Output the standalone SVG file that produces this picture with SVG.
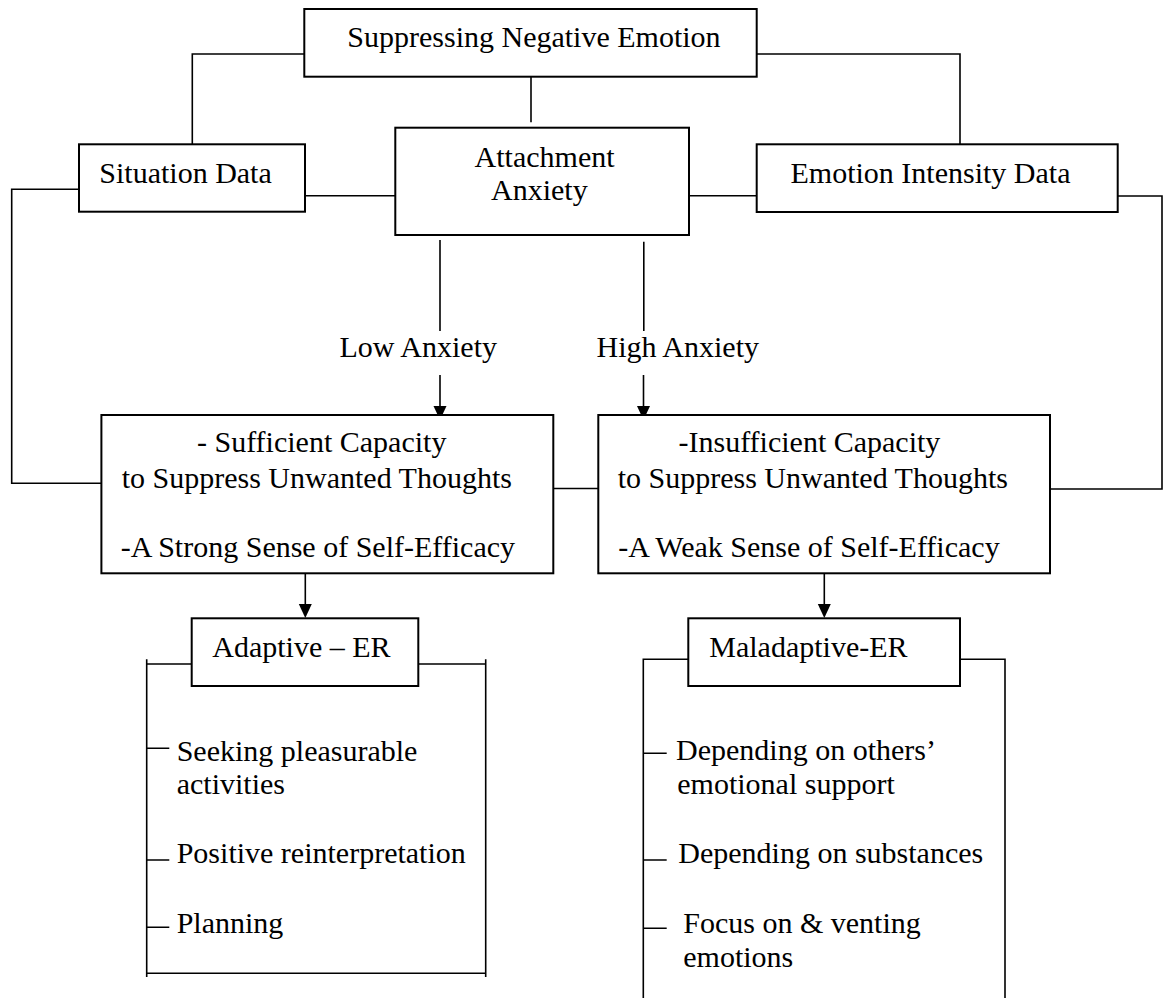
<svg xmlns="http://www.w3.org/2000/svg" width="1163" height="998" viewBox="0 0 1163 998">
<style>
  .box { fill: #fff; stroke: #000; stroke-width: 2; }
  .ln { fill: none; stroke: #000; stroke-width: 1.6; }
  text { font-family: "Liberation Serif", "Times New Roman", serif; font-size: 30px; fill: #000; }
</style>
<defs>
  <marker id="ah" markerWidth="13" markerHeight="14" refX="6.5" refY="14" orient="auto-start-reverse" markerUnits="userSpaceOnUse" viewBox="0 0 13 14">
    <path d="M0,0 L13,0 L6.5,14 Z" fill="#000"/>
  </marker>
</defs>
<rect width="1163" height="998" fill="#fff"/>

<g id="connectors">
  <path class="ln" d="M304.3,54 H192.3 V144.3"/>
  <path class="ln" d="M756.7,54 H960 V144.3"/>
  <path class="ln" d="M531,76.7 V122.3"/>
  <path class="ln" d="M305,195.7 H395.3"/>
  <path class="ln" d="M689,195.7 H756.7"/>
  <path class="ln" d="M79,189.3 H11.7 V483.3 H101.4"/>
  <path class="ln" d="M1117.7,196 H1162 V489 H1050"/>
  <path class="ln" d="M553.3,488.5 H598.3"/>
  <path class="ln" d="M440,240 V331"/>
  <path class="ln" d="M440,375 V406" />
  <path d="M433.5,406 L446.5,406 L440,420 Z" fill="#000"/>
  <path class="ln" d="M643.8,241.7 V331"/>
  <path class="ln" d="M643.5,375 V406"/>
  <path d="M637,406 L650,406 L643.5,420 Z" fill="#000"/>
  <path class="ln" d="M305.3,573.3 V604"/>
  <path d="M298.8,604 L311.8,604 L305.3,618 Z" fill="#000"/>
  <path class="ln" d="M824.3,573.3 V604"/>
  <path d="M817.8,604 L830.8,604 L824.3,618 Z" fill="#000"/>
  <g id="label-low"><text x="339.5" y="356.7">Low Anxiety</text></g>
  <g id="label-high"><text x="596.5" y="356.7">High Anxiety</text></g>
</g>

<g id="node-suppressing">
  <rect class="box" x="304.3" y="9" width="452.4" height="67.7"/>
  <text x="347.3" y="46.5">Suppressing Negative Emotion</text>
</g>

<g id="node-situation">
  <rect class="box" x="79" y="144.3" width="226" height="67.4"/>
  <text x="99.3" y="183.3">Situation Data</text>
</g>

<g id="node-attachment">
  <rect class="box" x="395.3" y="127.7" width="293.7" height="107.3"/>
  <text x="474.6" y="166.7">Attachment</text>
  <text x="491" y="200">Anxiety</text>
</g>

<g id="node-emotion">
  <rect class="box" x="756.7" y="144.3" width="361" height="67.7"/>
  <text x="790.5" y="183.3">Emotion Intensity Data</text>
</g>

<g id="node-sufficient">
  <rect class="box" x="101.4" y="415" width="451.9" height="158.3"/>
  <text x="197" y="452">- Sufficient Capacity</text>
  <text x="121.7" y="487.7">to Suppress Unwanted Thoughts</text>
  <text x="120.7" y="556.7">-A Strong Sense of Self-Efficacy</text>
</g>

<g id="node-insufficient">
  <rect class="box" x="598.3" y="415" width="451.7" height="158.3"/>
  <text x="678.5" y="452">-Insufficient Capacity</text>
  <text x="617.7" y="487.7">to Suppress Unwanted Thoughts</text>
  <text x="618.3" y="556.7">-A Weak Sense of Self-Efficacy</text>
</g>

<g id="node-adaptive">
  <path class="ln" d="M146.7,664 H191.7 M418.3,664 H485.7 M146.7,659.3 V977 M485.7,659.3 V977 M146.7,973.3 H485.7"/>
  <path class="ln" d="M146.7,748.3 H169.3 M146.7,860 H169.3 M146.7,927.3 H169.3"/>
  <rect class="box" x="191.7" y="618.3" width="226.6" height="67.7"/>
  <text x="212.3" y="656.7">Adaptive – ER</text>
  <text x="176.7" y="760.7">Seeking pleasurable</text>
  <text x="176.7" y="794">activities</text>
  <text x="176.7" y="863.3">Positive reinterpretation</text>
  <text x="176.7" y="932.7">Planning</text>
</g>

<g id="node-maladaptive">
  <path class="ln" d="M688.3,659.3 H643.3 V998 M960,659.3 H1005 V998"/>
  <path class="ln" d="M643.3,753.3 H666.7 M643.3,860 H666.7 M643.3,928.3 H666.7"/>
  <rect class="box" x="688.3" y="618.3" width="271.7" height="67.7"/>
  <text x="709.3" y="656.7">Maladaptive-ER</text>
  <text x="676" y="760">Depending on others’</text>
  <text x="677.3" y="794">emotional support</text>
  <text x="678.3" y="863.3">Depending on substances</text>
  <text x="683.3" y="933.3">Focus on &amp; venting</text>
  <text x="683.3" y="966.7">emotions</text>
</g>
</svg>
